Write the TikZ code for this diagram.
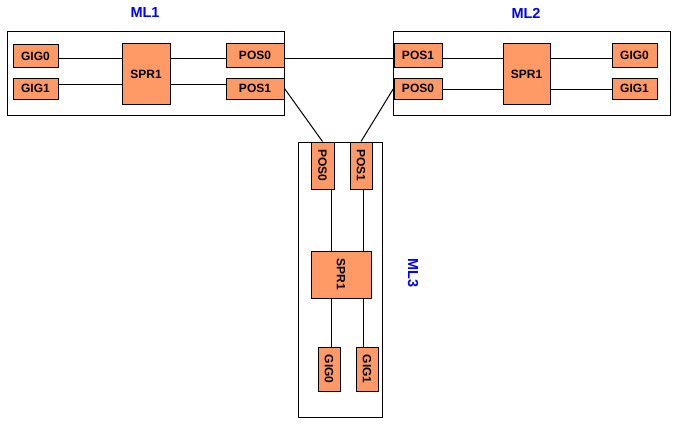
\documentclass[tikz,border=0pt]{standalone}
\usepackage{fontspec}
\usepackage{graphicx}
\setmainfont{Liberation Sans}
\definecolor{salmonbox}{RGB}{255,153,102}
\definecolor{mlblue}{RGB}{0,0,255}
\begin{document}
\begin{tikzpicture}[x=1pt,y=-1pt,
  pbox/.style={draw=black,line width=1pt,fill=salmonbox,inner sep=0pt,font=\bfseries\fontsize{12}{12}\selectfont},
  cardbox/.style={draw=black,line width=1pt,fill=white,inner sep=0pt},
  mllabel/.style={text=mlblue,font=\bfseries\fontsize{14.5}{14.5}\selectfont,inner sep=0pt},
  conn/.style={draw=black,line width=1pt}]
\useasboundingbox[fill=white] (0,0) rectangle (679,428);
% cards
\node[cardbox,minimum width=277,minimum height=83] (ml1box) at (145.5,73.5) {};
\node[cardbox,minimum width=277,minimum height=83] (ml2box) at (531.5,73.5) {};
\node[cardbox,minimum width=84,minimum height=275] (ml3box) at (340,279.5) {};
% labels
\node[mllabel] (ml1) at (145,13) {ML1};
\node[mllabel] (ml2) at (526,13) {ML2};
\node[mllabel,rotate=-90] (ml3) at (413,273) {ML3};
% ML1
\node[pbox,minimum width=45,minimum height=22] (a-g0) at (35.5,56) {GIG0};
\node[pbox,minimum width=45,minimum height=21] (a-g1) at (35.5,88.5) {GIG1};
\node[pbox,minimum width=48,minimum height=60] (a-spr) at (146,74) {SPR1};
\node[pbox,minimum width=58,minimum height=23] (a-p0) at (255,55.5) {POS0};
\node[pbox,minimum width=58,minimum height=21] (a-p1) at (255,88.5) {POS1};
% ML2
\node[pbox,minimum width=48,minimum height=23] (b-p1) at (418,55.5) {POS1};
\node[pbox,minimum width=48,minimum height=21] (b-p0) at (418,88.5) {POS0};
\node[pbox,minimum width=47,minimum height=60] (b-spr) at (526.5,74) {SPR1};
\node[pbox,minimum width=45,minimum height=23] (b-g0) at (634.5,55.5) {GIG0};
\node[pbox,minimum width=45,minimum height=21] (b-g1) at (634.5,88.5) {GIG1};
% ML3
\node[pbox,minimum width=23,minimum height=47] (c-p0) at (322.5,165.5) {\rotatebox{-90}{POS0}};
\node[pbox,minimum width=22,minimum height=47] (c-p1) at (361,165.5) {\rotatebox{-90}{POS1}};
\node[pbox,minimum width=60,minimum height=47] (c-spr) at (341,274.5) {\rotatebox{-90}{SPR1}};
\node[pbox,minimum width=22,minimum height=44] (c-g0) at (329,369) {\rotatebox{-90}{GIG0}};
\node[pbox,minimum width=22,minimum height=44] (c-g1) at (367,369) {\rotatebox{-90}{GIG1}};
% ML1 connectors
\draw[conn] (a-g0.east |- 0,58) -- (a-spr.west |- 0,58);
\draw[conn] (a-g1.east |- 0,84) -- (a-spr.west |- 0,84);
\draw[conn] (a-spr.east |- 0,58) -- (a-p0.west |- 0,58);
\draw[conn] (a-spr.east |- 0,84) -- (a-p1.west |- 0,84);
% ML2 connectors
\draw[conn] (b-p1.east |- 0,58) -- (b-spr.west |- 0,58);
\draw[conn] (b-p0.east |- 0,89) -- (b-spr.west |- 0,89);
\draw[conn] (b-spr.east |- 0,58) -- (b-g0.west |- 0,58);
\draw[conn] (b-spr.east |- 0,89) -- (b-g1.west |- 0,89);
% ML3 connectors
\draw[conn] (c-p0.south -| 331,0) -- (c-spr.north -| 331,0);
\draw[conn] (c-p1.south -| 363,0) -- (c-spr.north -| 363,0);
\draw[conn] (c-spr.south -| 331,0) -- (c-g0.north -| 331,0);
\draw[conn] (c-spr.south -| 363,0) -- (c-g1.north -| 363,0);
% inter-card links
\draw[conn] (a-p0.east |- 0,58) -- (b-p1.west |- 0,58);
\draw[conn] (a-p1.east) -- (c-p0.north);
\draw[conn] (b-p0.west) -- (c-p1.north);
\end{tikzpicture}
\end{document}
